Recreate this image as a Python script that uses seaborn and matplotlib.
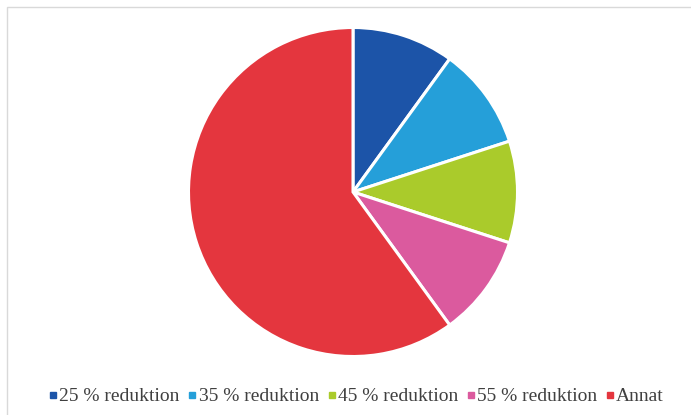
import matplotlib
matplotlib.use("Agg")
import matplotlib.pyplot as plt
import seaborn as sns
from matplotlib.lines import Line2D
from matplotlib.patches import Rectangle

categories = ["25 % reduktion", "35 % reduktion", "45 % reduktion", "55 % reduktion", "Annat"]
values = [10, 10, 10, 10, 60]
colors = ["#1C54A8", "#259FD9", "#AACB2B", "#DB5A9E", "#E4363E"]

sns.set_theme(style="white")
plt.rcParams['font.family'] = ['Liberation Serif', 'DejaVu Serif']

W, H = 691, 415
fig = plt.figure(figsize=(W / 100, H / 100), dpi=100)
fig.patch.set_facecolor("white")

# chart-area border
fig.add_artist(Rectangle((6.5 / W, -0.05), 1.1, (H - 7.5) / H + 0.05,
                         transform=fig.transFigure, fill=False,
                         edgecolor="#D9D9D9", linewidth=1.0))

cx, cy, r = 353, 223, 164.5
ax = fig.add_axes([(cx - r) / W, (cy - r) / H, 2 * r / W, 2 * r / H])
palette = sns.color_palette(colors)
ax.pie(values, colors=palette, startangle=90, counterclock=False,
       radius=1.0, wedgeprops=dict(edgecolor="white", linewidth=2.2))
ax.set_xlim(-1, 1)
ax.set_ylim(-1, 1)
ax.set_aspect("equal")
ax.axis("off")

handles = [Line2D([0], [0], marker="s", linestyle="none", markersize=3.8,
                  markerfacecolor=c, markeredgecolor=c) for c in palette]
leg = fig.legend(handles, categories, loc="center", bbox_to_anchor=(357 / W, 1 - 396.5 / H),
                 ncol=5, frameon=False, fontsize=14, handlelength=0.3,
                 handletextpad=0.17, columnspacing=0.5, borderaxespad=0,
                 borderpad=0)
for t in leg.get_texts():
    t.set_color("#404040")

fig.savefig("out.png", dpi=100, facecolor="white")
